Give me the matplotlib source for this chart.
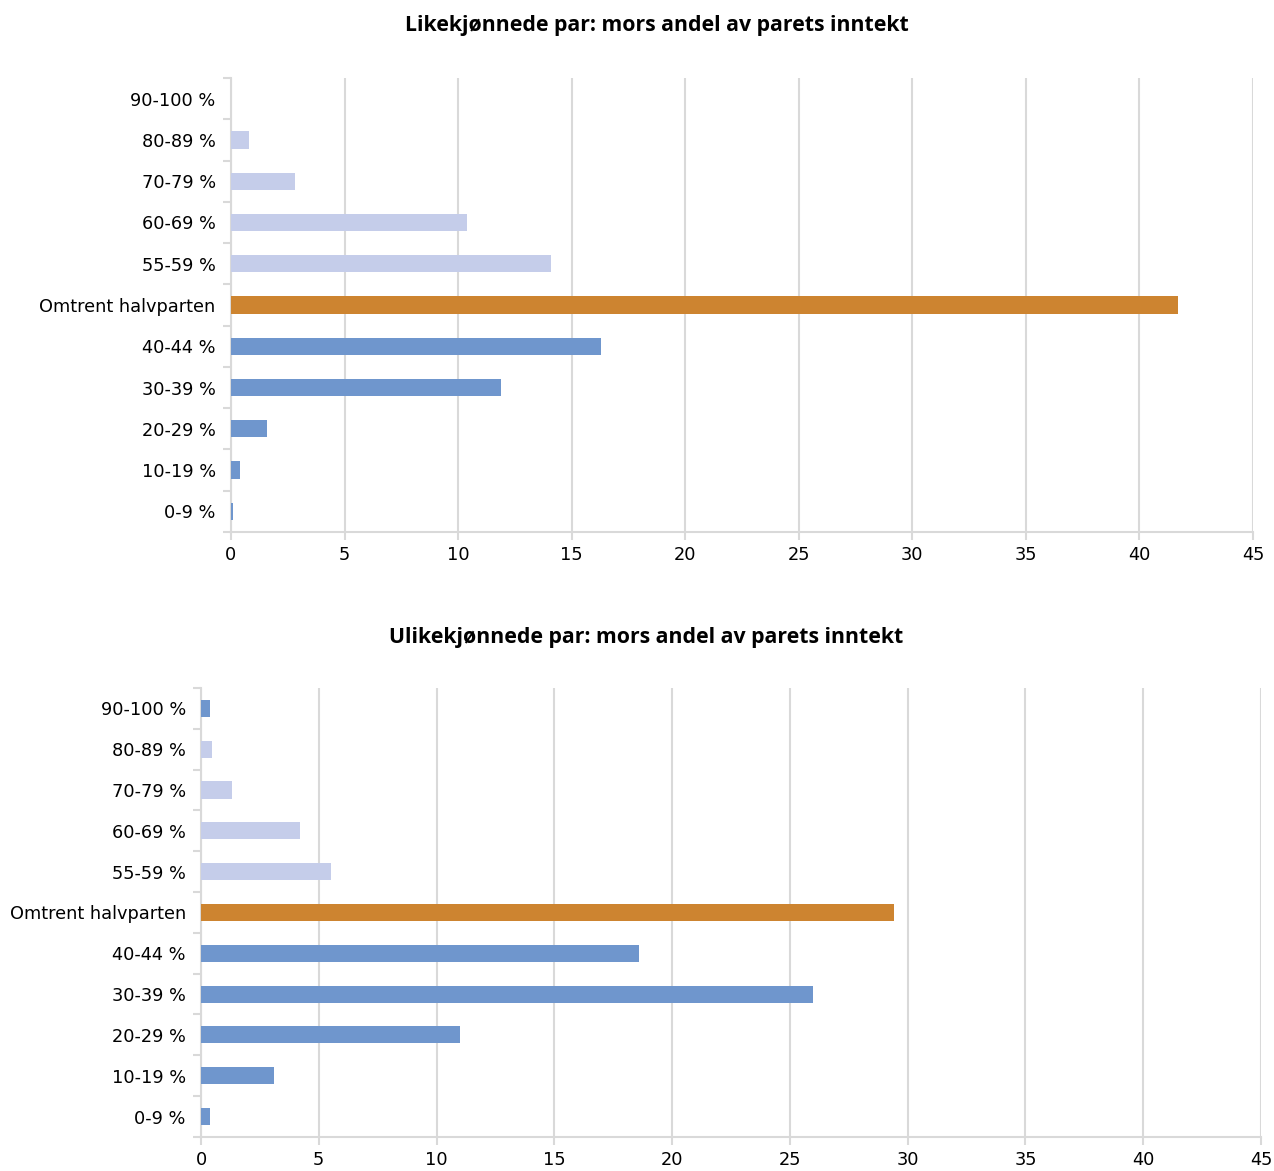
import numpy as np
import matplotlib.pyplot as plt
from matplotlib.ticker import FixedLocator

# kategorier, nederst til øverst
categories = ['0-9 %', '10-19 %', '20-29 %', '30-39 %', '40-44 %', 'Omtrent halvparten',
              '55-59 %', '60-69 %', '70-79 %', '80-89 %', '90-100 %']

like_values = [0.1, 0.4, 1.6, 11.9, 16.3, 41.7, 14.1, 10.4, 2.8, 0.8, 0.0]
ulike_values = [0.4, 3.1, 11.0, 26.0, 18.6, 29.4, 5.5, 4.2, 1.3, 0.45, 0.4]

dark = '#6f96cd'
light = '#c5cdea'
orange = '#cd8430'
like_colors = [dark] * 5 + [orange] + [light] * 5
ulike_colors = [dark] * 5 + [orange] + [light] * 4 + [dark]

titles = ['Likekjønnede par: mors andel av parets inntekt',
          'Ulikekjønnede par: mors andel av parets inntekt']

fig = plt.figure(figsize=(12.74, 11.71), dpi=100)
ax1 = fig.add_axes([0.1813, 0.5457, 0.8022, 0.3877])
ax2 = fig.add_axes([0.1578, 0.0291, 0.8320, 0.3834])

grid_c = '#d9d9d9'
for ax, vals, cols in [(ax1, like_values, like_colors),
                       (ax2, ulike_values, ulike_colors)]:
    y = np.arange(len(categories))
    ax.barh(y, vals, height=0.42, color=cols, zorder=3)
    ax.set_ylim(-0.5, len(categories) - 0.5)
    ax.set_xlim(0, 45)
    ax.set_xticks(np.arange(0, 46, 5))
    ax.set_yticks(y)
    ax.set_yticklabels(categories)
    ax.yaxis.set_minor_locator(FixedLocator(np.arange(-0.5, len(categories), 1)))
    ax.tick_params(axis='y', which='major', length=0, labelsize=12.8, pad=11)
    ax.tick_params(axis='y', which='minor', length=6, width=1.5, color=grid_c)
    ax.tick_params(axis='x', length=6, width=1.5, color=grid_c, labelsize=12.8, pad=4)
    ax.grid(axis='x', color=grid_c, linewidth=1.5, zorder=0)
    for s in ['top', 'right']:
        ax.spines[s].set_visible(False)
    for s in ['left', 'bottom']:
        ax.spines[s].set_color(grid_c)
        ax.spines[s].set_linewidth(1.5)

# titler
fig.text(0.5157, 1 - 25 / 1171, titles[0], fontsize=15.3, fontweight='bold',
         family='Open Sans', ha='center', va='center')
fig.text(0.5071, 1 - 637 / 1171, titles[1], fontsize=15.3, fontweight='bold',
         family='Open Sans', ha='center', va='center')

fig.savefig('out.png', dpi=100)
